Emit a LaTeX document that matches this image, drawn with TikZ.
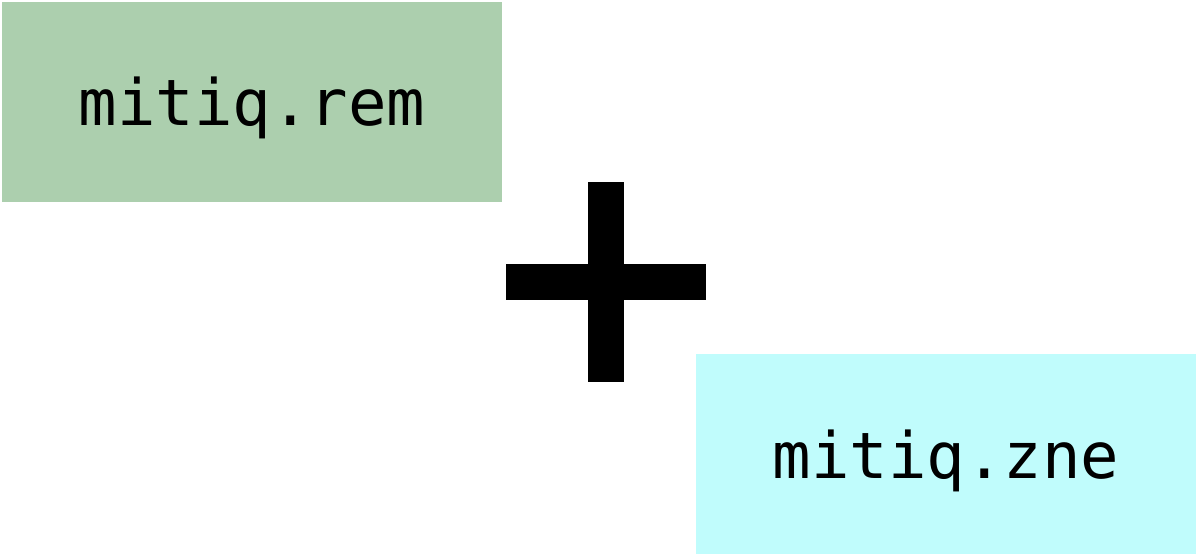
\documentclass[tikz,border=0pt]{standalone}
\usepackage{fontspec}
\setmonofont{DejaVu Sans Mono}
\usepackage{tikz}
\usetikzlibrary{positioning}
\definecolor{remgreen}{RGB}{172,207,174}
\definecolor{znecyan}{RGB}{192,252,252}
\tikzset{
  modbox/.style={minimum width=500pt,minimum height=200pt,inner sep=0pt,
    text height=60pt,text depth=12pt,font=\fontsize{64}{70}\selectfont\ttfamily},
}
\begin{document}
\begin{tikzpicture}[x=1pt,y=-1pt]
\useasboundingbox (0,0) rectangle (1198,556);
\node[modbox,fill=remgreen] (rem) at (252,102) {mitiq.rem};
\node[modbox,fill=znecyan] (zne) at (946,454) {mitiq.zne};
% plus sign between the two modules
\coordinate (plus) at (606,282);
\fill ([xshift=-18pt,yshift=100pt]plus) rectangle ([xshift=18pt,yshift=-100pt]plus);
\fill ([xshift=-100pt,yshift=18pt]plus) rectangle ([xshift=100pt,yshift=-18pt]plus);
\end{tikzpicture}
\end{document}
